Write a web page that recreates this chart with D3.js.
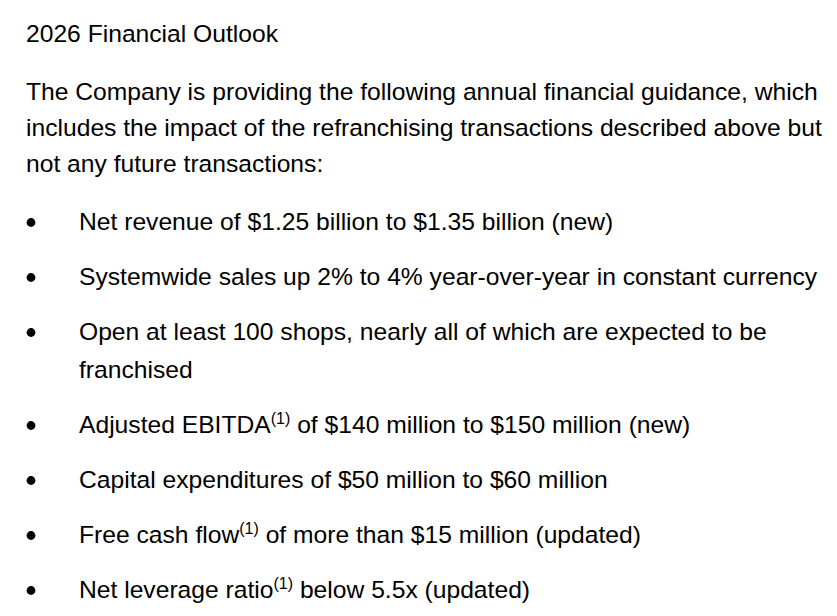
<!DOCTYPE html>
<html>
<head>
<meta charset="utf-8">
<script src="https://cdn.jsdelivr.net/npm/d3@7"></script>
<style>
  html, body { margin: 0; padding: 0; background: #fff; }
  svg { display: block; }
</style>
</head>
<body>
<svg id="chart" width="837" height="616"></svg>
<script>
const title = "2026 Financial Outlook";
const introLines = [
  "The Company is providing the following annual financial guidance, which",
  "includes the impact of the refranchising transactions described above but",
  "not any future transactions:"
];
// Each bullet: list of visual lines; each line: list of [text, isSuperscript]
const bullets = [
  [[["Net revenue of $1.25 billion to $1.35 billion (new)", false]]],
  [[["Systemwide sales up 2% to 4% year-over-year in constant currency", false]]],
  [[["Open at least 100 shops, nearly all of which are expected to be", false]],
   [["franchised", false]]],
  [[["Adjusted EBITDA", false], ["(1)", true], [" of $140 million to $150 million (new)", false]]],
  [[["Capital expenditures of $50 million to $60 million", false]]],
  [[["Free cash flow", false], ["(1)", true], [" of more than $15 million (updated)", false]]],
  [[["Net leverage ratio", false], ["(1)", true], [" below 5.5x (updated)", false]]]
];

const svg = d3.select("#chart");
const font = "'Liberation Sans', Arial, sans-serif";
const fs = 24.65;
const supFs = 16, supRaise = 9.5;
const left = 26, bulletTextX = 79, bulletX = 31;

svg.append("text")
  .attr("x", left).attr("y", 42)
  .attr("font-family", font).attr("font-size", fs).attr("fill", "#000")
  .text(title);

const introY = d3.scaleLinear().domain([0, 1]).range([100, 136]);
svg.selectAll("text.intro").data(introLines).join("text")
  .attr("class", "intro")
  .attr("x", left).attr("y", (d, i) => introY(i))
  .attr("font-family", font).attr("font-size", fs).attr("fill", "#000")
  .text(d => d);

const bulletY = d3.scaleLinear().domain([0, 1]).range([230, 285]);
const subLine = 38;
let offset = 0;
bullets.forEach((b, bi) => {
  const y0 = bulletY(bi) + offset;
  svg.append("circle").attr("cx", bulletX).attr("cy", y0 - 7.5).attr("r", 4.4).attr("fill", "#000");
  b.forEach((line, li) => {
    const t = svg.append("text")
      .attr("x", bulletTextX).attr("y", y0 + li * subLine)
      .attr("font-family", font).attr("font-size", fs).attr("fill", "#000");
    line.forEach(([txt, sup], i) => {
      const ts = t.append("tspan").text(txt);
      if (sup) {
        ts.attr("font-size", supFs).attr("dy", -supRaise);
      } else if (i > 0 && line[i - 1][1]) {
        ts.attr("dy", supRaise);
      }
    });
  });
  offset += (b.length - 1) * subLine;
});
</script>
</body>
</html>
